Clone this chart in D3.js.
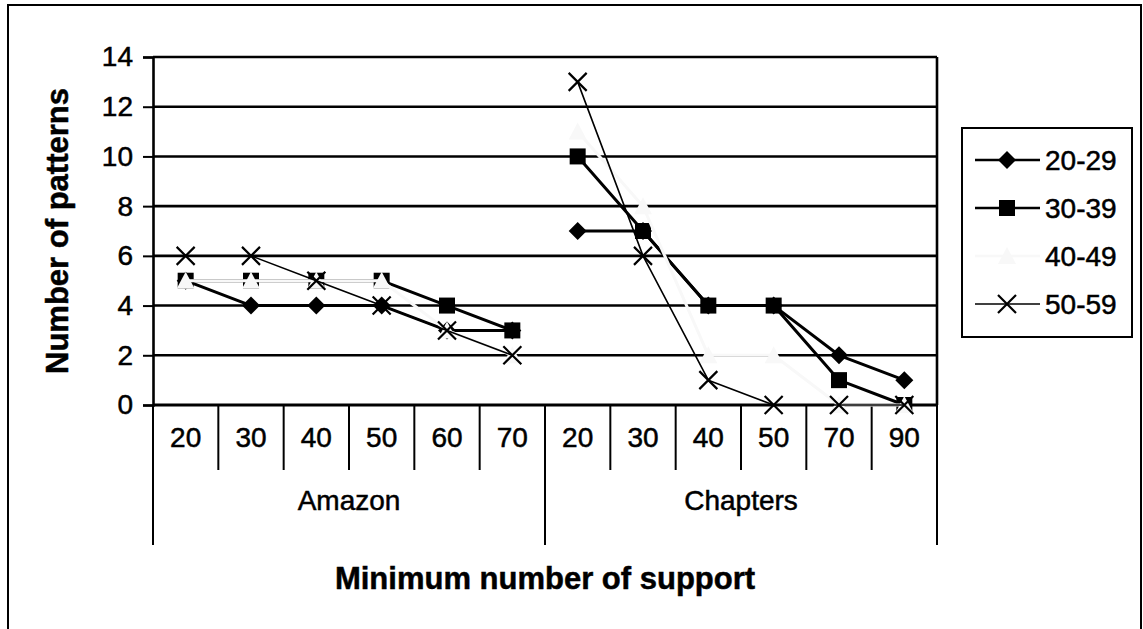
<!DOCTYPE html>
<html>
<head>
<meta charset="utf-8">
<script src="https://cdn.jsdelivr.net/npm/d3@7/dist/d3.min.js"></script>
<style>
  html, body { margin: 0; padding: 0; background: #fff; }
  svg { display: block; }
  text { font-family: "Liberation Sans", Arial, sans-serif; fill: #000; stroke: #000; stroke-width: 0.5px; }
</style>
</head>
<body>
<svg id="chart" width="1143" height="629"></svg>
<script>
// Two stores, each with its own list of minimum-support thresholds
const groups = ["Amazon", "Chapters"];
const amazonSupport = ["20", "30", "40", "50", "60", "70"];
const chaptersSupport = ["20", "30", "40", "50", "70", "90"];

// Number of patterns found per age band
const seriesNames = ["20-29", "30-39", "40-49", "50-59"];
const age20 = [5, 4, 4, 4, 3, 3, 7, 7, 4, 4, 2, 1];
const age30 = [5, 5, 5, 5, 4, 3, 10, 7, 4, 4, 1, 0];
const age40 = [5, 5, 5, 5, 3, 2, 11, 8, 2, 2, 0, 0];
const age50 = [6, 6, 5, 4, 3, 2, 13, 6, 1, 0, 0, 0];

const yTicks = [0, 2, 4, 6, 8, 10, 12, 14];

const categories = [
  ...amazonSupport.map(s => ({ group: groups[0], label: s })),
  ...chaptersSupport.map(s => ({ group: groups[1], label: s }))
];
categories.forEach((c, i) => c.key = i);

const series = [
  { name: seriesNames[0], values: age20, color: "#000", width: 3,   marker: "diamond" },
  { name: seriesNames[1], values: age30, color: "#000", width: 3,   marker: "square" },
  { name: seriesNames[2], values: age40, color: "#f8f8f8", width: 3, marker: "triangle" },
  { name: seriesNames[3], values: age50, color: "#000", width: 1.6, marker: "cross" }
];

const svg = d3.select("#chart");
const plot = { left: 153, right: 937, top: 57, bottom: 405 };

const x = d3.scaleBand()
  .domain(categories.map(c => c.key))
  .range([plot.left, plot.right]);
const y = d3.scaleLinear().domain([0, 14]).range([plot.bottom, plot.top]);

// outer frame
svg.append("rect")
  .attr("x", 8).attr("y", 5).attr("width", 1133).attr("height", 640)
  .attr("fill", "none").attr("stroke", "#000").attr("stroke-width", 2);

// horizontal gridlines
svg.append("g").selectAll("line")
  .data(yTicks.filter(t => t > 0))
  .join("line")
  .attr("x1", plot.left).attr("x2", plot.right)
  .attr("y1", d => y(d)).attr("y2", d => y(d))
  .attr("stroke", "#000").attr("stroke-width", 2.6);

// plot frame (right edge)
svg.append("line").attr("x1", plot.right).attr("x2", plot.right)
  .attr("y1", plot.top).attr("y2", plot.bottom)
  .attr("stroke", "#000").attr("stroke-width", 2.6);

// y axis
const yAxis = d3.axisLeft(y).tickValues(yTicks).tickSize(10).tickPadding(10);
const yg = svg.append("g").attr("transform", `translate(${plot.left},0)`).call(yAxis);
yg.select(".domain").attr("stroke-width", 2.6);
yg.selectAll(".tick line").attr("stroke-width", 2);
yg.selectAll("text").attr("font-size", 28).attr("font-family", "Liberation Sans, Arial, sans-serif");

// x axis: category row with separators
const xg = svg.append("g");
xg.append("line").attr("x1", plot.left).attr("x2", plot.right)
  .attr("y1", plot.bottom).attr("y2", plot.bottom)
  .attr("stroke", "#000").attr("stroke-width", 2.8);

const bounds = categories.map(c => x(c.key)).concat([plot.right]);
xg.selectAll("line.sep")
  .data(bounds)
  .join("line")
  .attr("class", "sep")
  .attr("x1", d => d).attr("x2", d => d)
  .attr("y1", plot.bottom)
  .attr("y2", (d, i) => (i === 0 || i === amazonSupport.length || i === categories.length) ? 545 : 470)
  .attr("stroke", "#000").attr("stroke-width", 2);

xg.selectAll("text.cat")
  .data(categories)
  .join("text")
  .attr("class", "cat")
  .attr("x", d => x(d.key) + x.bandwidth() / 2)
  .attr("y", 447)
  .attr("text-anchor", "middle")
  .attr("font-size", 28)
  .text(d => d.label);

const groupSpans = groups.map(g => {
  const keys = categories.filter(c => c.group === g).map(c => c.key);
  return { g, x0: x(keys[0]), x1: x(keys[keys.length - 1]) + x.bandwidth() };
});
xg.selectAll("text.grp")
  .data(groupSpans)
  .join("text")
  .attr("class", "grp")
  .attr("x", d => (d.x0 + d.x1) / 2)
  .attr("y", 510)
  .attr("text-anchor", "middle")
  .attr("font-size", 28)
  .text(d => d.g);

// axis titles
svg.append("text")
  .attr("x", 545).attr("y", 589)
  .attr("text-anchor", "middle")
  .attr("font-size", 31).attr("font-weight", "bold")
  .text("Minimum number of support");

svg.append("text")
  .attr("transform", "translate(68,231) rotate(-90)")
  .attr("text-anchor", "middle")
  .attr("font-size", 31).attr("font-weight", "bold")
  .text("Number of patterns");

// marker shapes
function drawMarker(sel, type, color) {
  if (type === "diamond") {
    sel.append("path").attr("d", "M0,-9L9,0L0,9L-9,0Z").attr("fill", color);
  } else if (type === "square") {
    sel.append("rect").attr("x", -8).attr("y", -8).attr("width", 16).attr("height", 16).attr("fill", color);
  } else if (type === "triangle") {
    sel.append("path").attr("d", "M0,-9L9,8L-9,8Z").attr("fill", color);
  } else if (type === "cross") {
    sel.append("path").attr("d", "M-9,-9L9,9M-9,9L9,-9")
      .attr("stroke", color).attr("stroke-width", 2.2).attr("fill", "none");
  }
}

const line = d3.line().x(d => x(d.key) + x.bandwidth() / 2).y(d => y(d.v));

series.forEach(s => {
  const g = svg.append("g");
  groups.forEach(grp => {
    const pts = categories.filter(c => c.group === grp).map(c => ({ key: c.key, v: s.values[c.key] }));
    g.append("path")
      .attr("d", line(pts))
      .attr("fill", "none")
      .attr("stroke", s.color)
      .attr("stroke-width", s.width)
      .attr("stroke-linejoin", "round");
  });
  categories.forEach(c => {
    const m = g.append("g")
      .attr("transform", `translate(${x(c.key) + x.bandwidth() / 2},${y(s.values[c.key])})`);
    drawMarker(m, s.marker, s.color);
  });
});

// legend
const legend = svg.append("g");
legend.append("rect")
  .attr("x", 962).attr("y", 128).attr("width", 170).attr("height", 209)
  .attr("fill", "#fff").attr("stroke", "#000").attr("stroke-width", 2);
const ly = d3.scalePoint().domain(seriesNames).range([160, 304]);
series.forEach(s => {
  const g = legend.append("g").attr("transform", `translate(0,${ly(s.name)})`);
  g.append("line").attr("x1", 975).attr("x2", 1040).attr("y1", 0).attr("y2", 0)
    .attr("stroke", s.color).attr("stroke-width", s.width === 3 ? 2.6 : 1.6);
  const m = g.append("g").attr("transform", "translate(1007,0)");
  drawMarker(m, s.marker, s.color);
  g.append("text").attr("x", 1045).attr("y", 10).attr("font-size", 28).text(s.name);
});
</script>
</body>
</html>
